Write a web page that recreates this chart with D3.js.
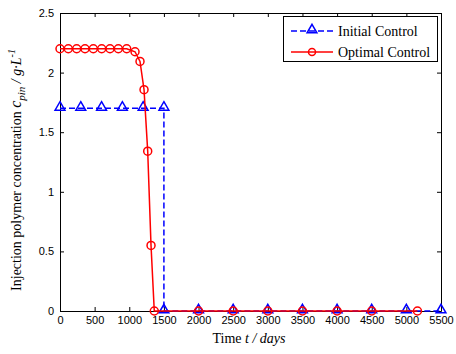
<!DOCTYPE html>
<html>
<head>
<meta charset="utf-8">
<script src="https://cdn.jsdelivr.net/npm/d3@7"></script>
<style>
  body { margin: 0; background: #fff; }
  .tick text { font-family: Arial, "Liberation Sans", sans-serif; font-size: 11px; }
  .lbl { font-family: "Liberation Serif", "Times New Roman", serif; font-size: 14px; }
</style>
</head>
<body>
<script>
'use strict';

// Initial control (days, concentration)
const initT = [0, 300, 600, 900, 1200, 1500, 1500, 2000, 2500, 3000, 3500, 4000, 4500, 5000, 5500];
const initC = [1.7, 1.7, 1.7, 1.7, 1.7, 1.7, 0, 0, 0, 0, 0, 0, 0, 0, 0];

// Optimal control
const optT = [0, 120, 241, 361, 481, 602, 722, 842, 963, 1083, 1155, 1213, 1266, 1314, 1361,
              2000, 2500, 3000, 3500, 4000, 4500, 5160];
const optC = [2.2, 2.2, 2.2, 2.2, 2.2, 2.2, 2.2, 2.2, 2.2, 2.175, 2.094, 1.857, 1.341, 0.55, 0,
              0, 0, 0, 0, 0, 0, 0];

const xTicks = [0, 500, 1000, 1500, 2000, 2500, 3000, 3500, 4000, 4500, 5000, 5500];
const yTicks = [0, 0.5, 1, 1.5, 2, 2.5];
const seriesNames = ["Initial Control", "Optimal Control"];

const W = 456, H = 354;
const margin = {top: 13, right: 15, bottom: 43, left: 60};

const svg = d3.select("body").append("svg")
    .attr("width", W).attr("height", H);

const x = d3.scaleLinear().domain([0, 5500]).range([margin.left, W - margin.right]);
const y = d3.scaleLinear().domain([0, 2.5]).range([H - margin.bottom, margin.top]);

// axes, MATLAB box style with inward ticks
const axB = svg.append("g").attr("transform", `translate(0,${y(0)})`)
    .call(d3.axisBottom(x).tickValues(xTicks).tickSizeInner(-4).tickSizeOuter(0).tickPadding(6).tickFormat(d3.format("d")));
const axT = svg.append("g").attr("transform", `translate(0,${y(2.5)})`)
    .call(d3.axisTop(x).tickValues(xTicks).tickSizeInner(-4).tickSizeOuter(0).tickFormat(""));
const axL = svg.append("g").attr("transform", `translate(${x(0)},0)`)
    .call(d3.axisLeft(y).tickValues(yTicks).tickSizeInner(-4).tickSizeOuter(0).tickPadding(6).tickFormat(d => d));
const axR = svg.append("g").attr("transform", `translate(${x(5500)},0)`)
    .call(d3.axisRight(y).tickValues(yTicks).tickSizeInner(-4).tickSizeOuter(0).tickFormat(""));
[axB, axT, axL, axR].forEach(a => {
  a.selectAll("path, line").attr("stroke", "#000").attr("stroke-width", 1);
  a.selectAll("text").attr("fill", "#000");
});
axB.selectAll(".tick text").attr("dy", "0.6em");

const line = d3.line().x(d => x(d[0])).y(d => y(d[1]));
const tri = d3.symbol().type(d3.symbolTriangle).size(42);

// initial control
const initData = initT.map((t, i) => [t, initC[i]]);
svg.append("path").datum(initData)
    .attr("d", line).attr("fill", "none").attr("stroke", "#0000ff")
    .attr("stroke-width", 1.5).attr("stroke-dasharray", "6,3");
svg.selectAll(".tri").data(initData).enter().append("path")
    .attr("class", "tri")
    .attr("transform", d => `translate(${x(d[0])},${y(d[1]) - 1})`)
    .attr("d", tri).attr("fill", "none").attr("stroke", "#0000ff").attr("stroke-width", 1.5);

// optimal control
const optData = optT.map((t, i) => [t, optC[i]]);
svg.append("path").datum(optData)
    .attr("d", line).attr("fill", "none").attr("stroke", "#ff0000").attr("stroke-width", 1.5);
svg.selectAll(".circ").data(optData).enter().append("circle")
    .attr("class", "circ")
    .attr("cx", d => x(d[0])).attr("cy", d => y(d[1])).attr("r", 4)
    .attr("fill", "none").attr("stroke", "#ff0000").attr("stroke-width", 1.5);

// axis labels
const xl = svg.append("text").attr("class", "lbl")
    .attr("x", 249).attr("y", 343).attr("text-anchor", "middle");
xl.append("tspan").text("Time ");
xl.append("tspan").attr("font-style", "italic").text("t / days");

const yl = svg.append("text").attr("class", "lbl")
    .attr("transform", `translate(21,170) rotate(-90)`)
    .attr("text-anchor", "middle");
yl.append("tspan").text("Injection polymer concentration ");
yl.append("tspan").attr("font-style", "italic").attr("font-size", "16px").text("c");
yl.append("tspan").attr("font-style", "italic").attr("font-size", "11px").attr("dy", 4).text("pin");
yl.append("tspan").attr("font-style", "italic").attr("dy", -4).text(" / g·L");
yl.append("tspan").attr("font-style", "italic").attr("font-size", "10px").attr("dy", -6).text("-1");

// legend
const lg = svg.append("g");
lg.append("rect").attr("x", 283.5).attr("y", 16.5).attr("width", 154).attr("height", 45)
    .attr("fill", "#fff").attr("stroke", "#000").attr("stroke-width", 1);
const rows = [31, 52];
lg.append("line").attr("x1", 291).attr("x2", 333).attr("y1", rows[0]).attr("y2", rows[0])
    .attr("stroke", "#0000ff").attr("stroke-width", 1.5).attr("stroke-dasharray", "6,3");
lg.append("path").attr("transform", `translate(312,${rows[0] - 1})`).attr("d", tri)
    .attr("fill", "none").attr("stroke", "#0000ff").attr("stroke-width", 1.5);
lg.append("line").attr("x1", 291).attr("x2", 333).attr("y1", rows[1]).attr("y2", rows[1])
    .attr("stroke", "#ff0000").attr("stroke-width", 1.5);
lg.append("circle").attr("cx", 312).attr("cy", rows[1]).attr("r", 3.5)
    .attr("fill", "none").attr("stroke", "#ff0000").attr("stroke-width", 1.5);
seriesNames.forEach((n, i) => {
  lg.append("text").attr("class", "lbl").attr("x", 338).attr("y", rows[i] + 4.5)
    .attr("font-size", "13px").text(n);
});
</script>
</body>
</html>
